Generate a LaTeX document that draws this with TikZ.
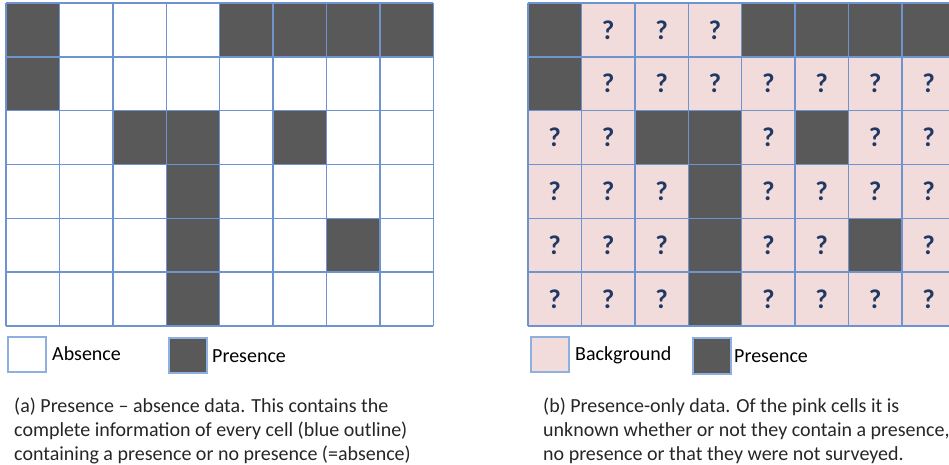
\documentclass[tikz,border=0pt]{standalone}
\usepackage{fontspec}
\setmainfont{Carlito}
\definecolor{pres}{HTML}{595959}
\definecolor{gridblue}{HTML}{6F93CE}
\definecolor{bgpink}{HTML}{F2DCDB}
\definecolor{qblue}{HTML}{1F3864}
\definecolor{legblue}{HTML}{8DB0E0}
\tikzset{
  presfill/.style={fill=pres},
  bgfill/.style={fill=bgpink},
  gridline/.style={draw=gridblue, line width=1.4pt},
  legbox/.style={draw=legblue, line width=1.2pt},
  qmark/.style={text=qblue, font=\fontsize{27}{30}\selectfont\bfseries, inner sep=0pt},
  legtext/.style={font=\fontsize{20}{24}\selectfont, anchor=base west, inner sep=0pt},
  captext/.style={font=\fontsize{20}{24}\selectfont, anchor=base west, inner sep=0pt, text=black!85},
}
\begin{document}
\begin{tikzpicture}[x=1pt,y=-1pt]
\useasboundingbox (0,0) rectangle (949,465);
\clip (0,0) rectangle (949,465);
% ---------- left grid (presence-absence)
\begin{scope}[shift={(6,3)}, x=53.4pt, y=-53.83pt]
  \foreach \r/\cells in {0/{1,0,0,0,1,1,1,1},1/{1,0,0,0,0,0,0,0},2/{0,0,1,1,0,1,0,0},3/{0,0,0,1,0,0,0,0},4/{0,0,0,1,0,0,1,0},5/{0,0,0,1,0,0,0,0}} {
    \foreach \v [count=\c from 0] in \cells {
      \ifnum\v=1 \fill[presfill] (\c,\r) rectangle ++(1,1); \fi
    }
  }
  \foreach \i in {0,...,8} \draw[gridline] (\i,0) -- (\i,6);
  \foreach \j in {0,...,6} \draw[gridline] (0,\j) -- (8,\j);
\end{scope}
% ---------- right grid (presence-only)
\begin{scope}[shift={(528,3)}, x=53.4pt, y=-53.83pt]
  \foreach \r/\cells in {0/{1,0,0,0,1,1,1,1},1/{1,0,0,0,0,0,0,0},2/{0,0,1,1,0,1,0,0},3/{0,0,0,1,0,0,0,0},4/{0,0,0,1,0,0,1,0},5/{0,0,0,1,0,0,0,0}} {
    \foreach \v [count=\c from 0] in \cells {
      \ifnum\v=1
        \fill[presfill] (\c,\r) rectangle ++(1,1);
      \else
        \fill[bgfill] (\c,\r) rectangle ++(1,1);
        \node[qmark] (q-\r-\c) at (\c+0.5,\r+0.5) {?};
      \fi
    }
  }
  \foreach \i in {0,...,8} \draw[gridline] (\i,0) -- (\i,6);
  \foreach \j in {0,...,6} \draw[gridline] (0,\j) -- (8,\j);
\end{scope}
% ---------- legends
\draw[legbox, fill=white] (8,337) rectangle (46,372);
\node[legtext] (absence) at (52,360) {Absence};
\draw[legbox, presfill] (169,338) rectangle (207,373);
\node[legtext] (presenceA) at (212,362.5) {Presence};
\draw[legbox, bgfill] (531,337) rectangle (569,372);
\node[legtext] (background) at (575,360) {Background};
\draw[legbox, presfill] (693,338) rectangle (731,374);
\node[legtext] (presenceB) at (734,362.5) {Presence};
% ---------- captions
\node[captext] (capA1) at (14,412) {(a) Presence -- absence data. This contains the};
\node[captext] (capA2) at (14,436) {complete information of every cell (blue outline)};
\node[captext] (capA3) at (14,460) {containing a presence or no presence (=absence)};
\node[captext] (capB1) at (543,412) {(b) Presence-only data. Of the pink cells it is};
\node[captext] (capB2) at (543,436) {unknown whether or not they contain a presence,};
\node[captext] (capB3) at (543,460) {no presence or that they were not surveyed.};
\end{tikzpicture}
\end{document}
